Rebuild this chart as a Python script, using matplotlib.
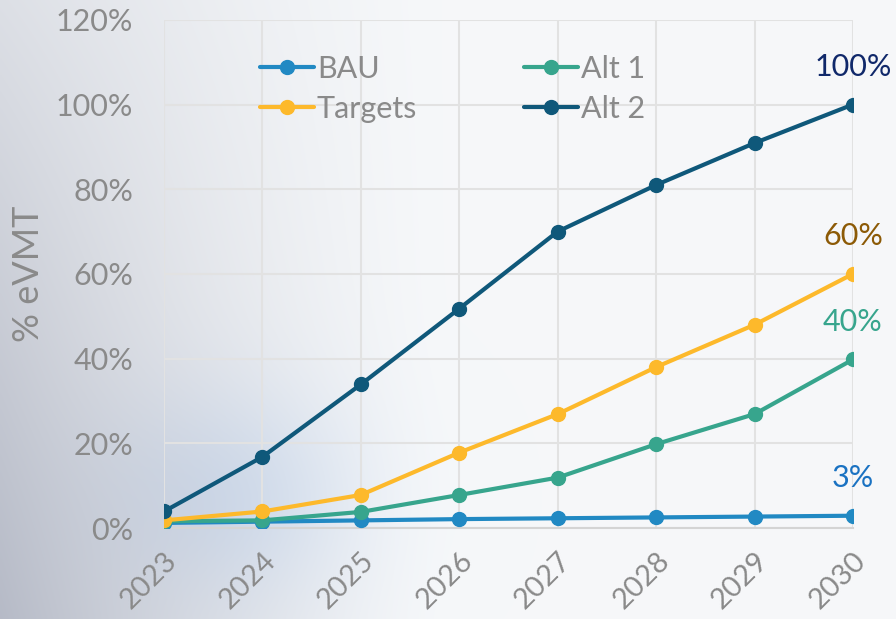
import numpy as np
import matplotlib
matplotlib.use("Agg")
import matplotlib.pyplot as plt

years = [2023, 2024, 2025, 2026, 2027, 2028, 2029, 2030]
bau = [1.2, 1.5, 1.8, 2.1, 2.3, 2.5, 2.7, 2.9]
alt1 = [1.6, 1.8, 3.8, 7.8, 11.9, 19.8, 26.9, 39.8]
targets = [1.8, 3.9, 7.8, 17.8, 26.9, 38.0, 48.0, 60.0]
alt2 = [3.9, 16.8, 33.9, 51.8, 70.0, 81.0, 90.9, 100.0]

series = [
    ("BAU", bau, "#2189c3", "#1a72c2"),
    ("Targets", targets, "#fdb92b", "#8c5a06"),
    ("Alt 1", alt1, "#37a58d", "#37a58d"),
    ("Alt 2", alt2, "#0f587a", "#10286a"),
]
draw_order = ["BAU", "Alt 1", "Targets", "Alt 2"]

plt.rcParams['font.family'] = ['Lato', 'DejaVu Sans']
gray = "#8a8a8a"

fig = plt.figure(figsize=(8.96, 6.19), dpi=100)

# soft photo-like background: grey on the lower left, white toward the right
bg = fig.add_axes([0, 0, 1, 1], zorder=-10)
yy, xx = np.mgrid[0:1:300j, 0:1:400j]
shade = np.clip(1 - xx / 0.5, 0, 1) ** 1.4 * (1.0 - 0.6 * yy)
blue = np.exp(-((xx - 0.27) ** 2 / 0.02 + (yy - 0.2) ** 2 / 0.03))
img = np.ones((300, 400, 3))
img[..., 0] = 0.965 - 0.25 * shade - 0.08 * blue
img[..., 1] = 0.972 - 0.24 * shade - 0.05 * blue
img[..., 2] = 0.980 - 0.20 * shade - 0.01 * blue
bg.imshow(np.clip(img, 0, 1), extent=[0, 1, 0, 1], origin="lower",
          aspect="auto", interpolation="bilinear")
bg.axis("off")

ax = fig.add_axes([0.183, 0.147, 0.769, 0.821])
ax.patch.set_alpha(0)

lines = {}
for name in draw_order:
    label, vals, col, lcol = next(s for s in series if s[0] == name)
    ln, = ax.plot(years, vals, color=col, lw=3, marker="o", ms=10, label=label,
                  solid_capstyle="round", zorder=3)
    lines[name] = ln
    ax.annotate(f"{vals[-1]:.0f}%", (years[-1], vals[-1]), xytext=(0, 27),
                textcoords="offset points", ha="center", va="center",
                fontsize=22, color=lcol, zorder=4)

ax.set_xlim(2023, 2030)
ax.set_ylim(0, 120)
ax.set_yticks(range(0, 121, 20))
ax.set_yticklabels([f"{v}%" for v in range(0, 121, 20)])
ax.set_xticks(years)
ax.set_xticklabels([str(y) for y in years], rotation=45, ha="right",
                   va="top", rotation_mode="anchor")
ax.tick_params(axis="both", length=0, labelcolor=gray)
ax.tick_params(axis="y", pad=22, labelsize=22)
ax.tick_params(axis="x", pad=14, labelsize=21)
ax.grid(True, color="#e2e2e2", lw=1.5, zorder=0)
for s in ["left", "right", "top"]:
    ax.spines[s].set_visible(False)
ax.spines["bottom"].set_color("#d4d4d4")
ax.spines["bottom"].set_linewidth(1.5)
ax.set_ylabel("% eVMT", fontsize=26, color=gray, labelpad=8)

handles = [lines[s[0]] for s in series]
leg = ax.legend(handles, [s[0] for s in series], ncol=2, loc="upper left",
                bbox_to_anchor=(0.1, 0.985), frameon=False, fontsize=22,
                handlelength=1.75, handletextpad=0.1, columnspacing=3.5,
                labelspacing=0.4)
for t in leg.get_texts():
    t.set_color(gray)

fig.savefig("out.png", dpi=100)
